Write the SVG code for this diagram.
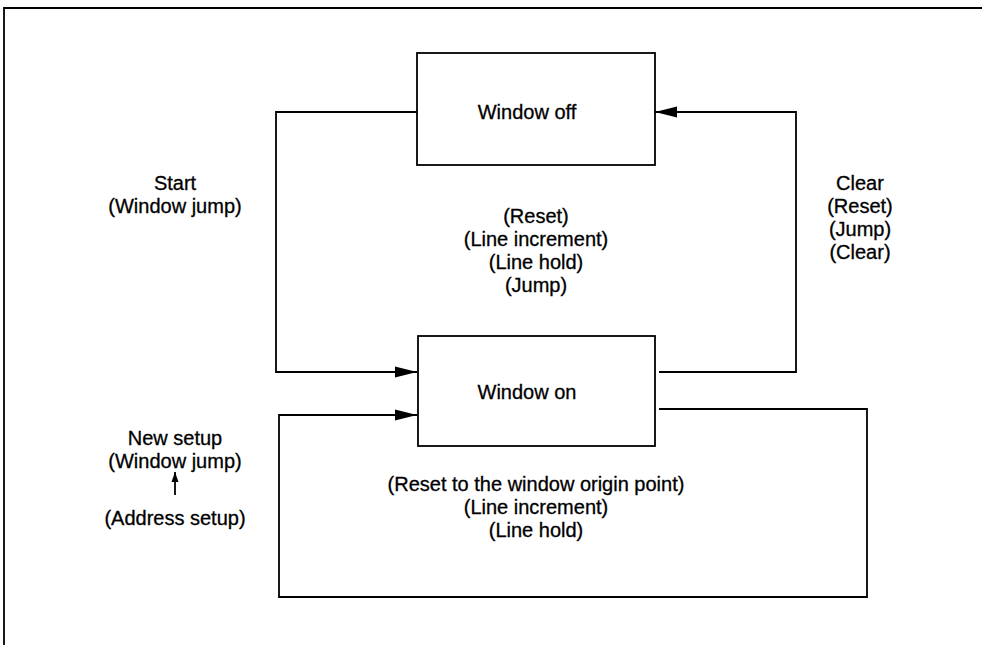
<svg xmlns="http://www.w3.org/2000/svg" width="982" height="645" viewBox="0 0 982 645">
<style>
.t{font-family:"Liberation Sans",Arial,sans-serif;font-size:20px;fill:#000;stroke:#000;stroke-width:0.3;text-anchor:middle}
.box{fill:#fff;stroke:#000;stroke-width:1.8}
.ln{fill:none;stroke:#000;stroke-width:1.8}
</style>
<defs>
<marker id="ah" markerUnits="userSpaceOnUse" markerWidth="24" markerHeight="12" refX="22" refY="6" orient="auto">
<path d="M0,0.5 L22,6 L0,11.5 Z" fill="#000"/>
</marker>
<marker id="sa" markerUnits="userSpaceOnUse" markerWidth="10" markerHeight="8" refX="10" refY="4" orient="auto">
<path d="M0,0.5 L10,4 L0,7.5 Z" fill="#000"/>
</marker>
</defs>
<rect width="982" height="645" fill="#fff"/>
<g id="frame">
<path class="ln" d="M4,645 L4,8 L982,8"/>
</g>
<g id="connectors">
<path class="ln" d="M417,112 L276,112 L276,372 L417,372" marker-end="url(#ah)"/>
<path class="ln" d="M659,372 L796,372 L796,112 L655,112" marker-end="url(#ah)"/>
<path class="ln" d="M659,409 L867,409 L867,597 L279,597 L279,415 L417,415" marker-end="url(#ah)"/>
<path class="ln" d="M175,495 L175,472" marker-end="url(#sa)"/>
</g>
<g id="window-off">
<rect class="box" x="417" y="53" width="238" height="112"/>
<text class="t" x="527" y="119">Window off</text>
</g>
<g id="window-on">
<rect class="box" x="418" y="336" width="237" height="110"/>
<text class="t" x="527" y="399">Window on</text>
</g>
<g id="labels">
<text class="t" x="175" y="190">Start</text>
<text class="t" x="175" y="213">(Window jump)</text>
<text class="t" x="536" y="223">(Reset)</text>
<text class="t" x="536" y="246">(Line increment)</text>
<text class="t" x="536" y="269">(Line hold)</text>
<text class="t" x="536" y="292">(Jump)</text>
<text class="t" x="860" y="190">Clear</text>
<text class="t" x="860" y="213">(Reset)</text>
<text class="t" x="860" y="236">(Jump)</text>
<text class="t" x="860" y="259">(Clear)</text>
<text class="t" x="536" y="491">(Reset to the window origin point)</text>
<text class="t" x="536" y="514">(Line increment)</text>
<text class="t" x="536" y="537">(Line hold)</text>
<text class="t" x="175" y="445">New setup</text>
<text class="t" x="175" y="468">(Window jump)</text>
<text class="t" x="175" y="525">(Address setup)</text>
</g>
</svg>
